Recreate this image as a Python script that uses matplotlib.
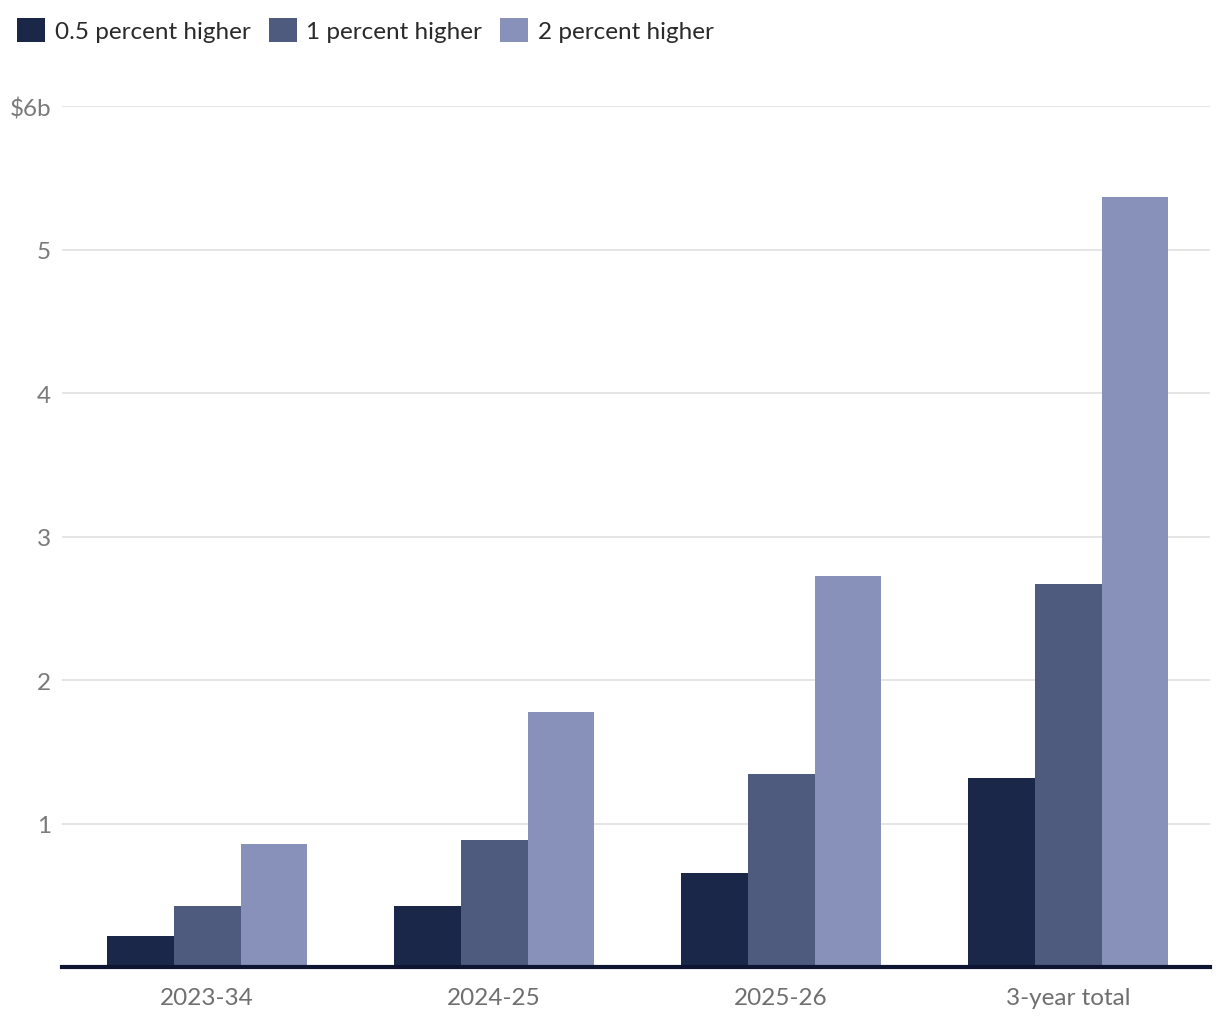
"""Bar chart: extra cost by year for three rate scenarios."""

import matplotlib

matplotlib.use("Agg")
import matplotlib.pyplot as plt
import numpy as np

plt.rcParams["font.family"] = ["Lato", "DejaVu Sans"]

# data
categories = ["2023-34", "2024-25", "2025-26", "3-year total"]
series_names = ["0.5 percent higher", "1 percent higher", "2 percent higher"]
half_pct = [0.22, 0.43, 0.66, 1.32]
one_pct = [0.43, 0.89, 1.35, 2.67]
two_pct = [0.86, 1.78, 2.73, 5.37]
yticks = [1, 2, 3, 4, 5, 6]
ytick_labels = ["1", "2", "3", "4", "5", "$6b"]

colors = ["#1b2748", "#4e5a7e", "#8891b9"]

fig = plt.figure(figsize=(12.2, 10.2), dpi=100)
ax = fig.add_axes([0.051, 0.0505, 0.941, 0.8445])

x = np.arange(len(categories))
width = 0.233
for i, (vals, name) in enumerate(zip([half_pct, one_pct, two_pct], series_names)):
    ax.bar(x + (i - 1) * width, vals, width=width, color=colors[i], label=name,
           zorder=3, linewidth=0)

ax.set_xlim(-0.505, 3.495)
ax.set_ylim(0, 6)
ax.set_xticks(x)
ax.set_xticklabels(categories, fontsize=17.5, color="#6f6f6f")
ax.set_yticks(yticks)
ax.set_yticklabels(ytick_labels, fontsize=17.5, color="#7a7a7a")
ax.tick_params(axis="both", length=0)
ax.tick_params(axis="x", pad=14)
ax.tick_params(axis="y", pad=8)
ax.grid(axis="y", color="#e3e3e3", linewidth=1.3, zorder=0)

for side in ["top", "right", "left"]:
    ax.spines[side].set_visible(False)
ax.spines["bottom"].set_color("#0d1533")
ax.spines["bottom"].set_linewidth(3)
ax.spines["bottom"].set_zorder(4)

leg = fig.legend(loc="upper left", bbox_to_anchor=(-0.004, 1.003), ncol=3,
                 frameon=False, fontsize=17.5, handlelength=1.15, handleheight=1.15,
                 handletextpad=0.4, columnspacing=0.75, labelcolor="#2a2a2a")

fig.savefig("out.png", dpi=100)
plt.close(fig)
